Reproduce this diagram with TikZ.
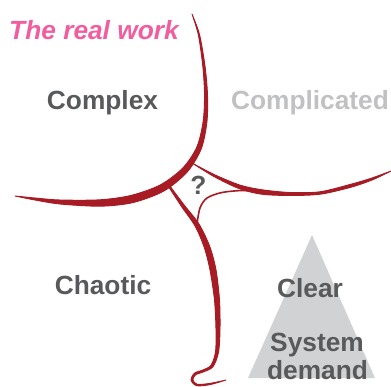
\documentclass[tikz,border=0pt]{standalone}
\usepackage{fontspec}
\setmainfont{Liberation Sans}
\definecolor{wred}{RGB}{166,27,36}
\definecolor{dgray}{RGB}{88,89,91}
\definecolor{lgray}{RGB}{192,193,195}
\definecolor{tgray}{RGB}{209,210,212}
\definecolor{wpink}{RGB}{240,94,160}
\begin{document}
\begin{tikzpicture}[x=1pt,y=-1pt,line join=round,line cap=round,
		brush/.style={fill=wred,draw=wred,line width=0.9},
		lbl/.style={inner sep=0,anchor=base,text=dgray,font=\fontsize{26.3}{30}\selectfont\bfseries}]
	\useasboundingbox (0,0) rectangle (391,387);
	\fill[tgray] (312,235) -- (248,378) -- (375,378) -- cycle;
	% brush strokes, filled between two edges so they taper
	\path[brush] plot[smooth] coordinates {(192,14) (199.6,34.9) (205.1,66.9) (207.5,95) (206.9,122.2) (201.2,148.9) (187.2,172) (163.7,191.1) (132.9,202.6) (100.1,206.2) (59.9,204) (34.9,200) (15,196)}
		-- plot[smooth] coordinates {(15,196) (35.1,198) (60.1,200) (99.9,199.8) (131.1,195.4) (160.3,184.9) (182.8,168) (196.8,147.1) (203.1,121.8) (204.5,95) (202.9,67.1) (198.4,35.1) (192,14)} -- cycle;
	\path[brush] plot[smooth] coordinates {(192,163) (215.4,175.1) (240.6,185.3) (262.3,189.8) (290,192.5) (319.8,191.8) (349.6,184.6) (371.7,178.1) (391,171)}
		-- plot[smooth] coordinates {(391,171) (372.3,179.9) (350.4,187.4) (320.2,194.2) (290,195.5) (261.7,194.2) (239.4,188.7) (214.6,176.9) (192,163)} -- cycle;
	\draw[wred,line width=1.6] plot[smooth] coordinates {(197,224) (200,208) (207,198) (222,192.5) (243,190.5) (262,192)};
	\path[brush] plot[smooth] coordinates {(169.6,185.6) (184.2,205.1) (198.9,223.9) (209.6,246.1) (215.9,269.4) (219.5,299.8) (220,330) (218.5,352.2) (213,366.7) (203.4,371.9) (195.6,374.8) (192.9,379.8) (197.2,384.3) (209.9,383.4) (226,380)}
		-- plot[smooth] coordinates {(226,380) (210.1,384.6) (196.8,385.7) (191.1,380.2) (194.4,373.2) (202.6,370.1) (211,365.3) (215.5,351.8) (216,330) (214.5,300.2) (210.1,270.6) (204.4,247.9) (195.1,226.1) (181.8,206.9) (168.4,186.4)} -- cycle;
	% labels
	\node[lbl,text=wpink,font=\fontsize{26.3}{30}\selectfont\bfseries\itshape] (realwork) at (94,40) {The real work};
	\node[lbl] (complex) at (102.5,110) {Complex};
	\node[lbl,text=lgray] (complicated) at (310,110) {Complicated};
	\node[lbl] (query) at (198.5,195) {?};
	\node[lbl] (chaotic) at (103,295) {Chaotic};
	\node[lbl] (clear) at (310,298) {Clear};
	\node[lbl] (system) at (317,352) {System};
	\node[lbl] (demand) at (317.5,380) {demand};
\end{tikzpicture}
\end{document}
